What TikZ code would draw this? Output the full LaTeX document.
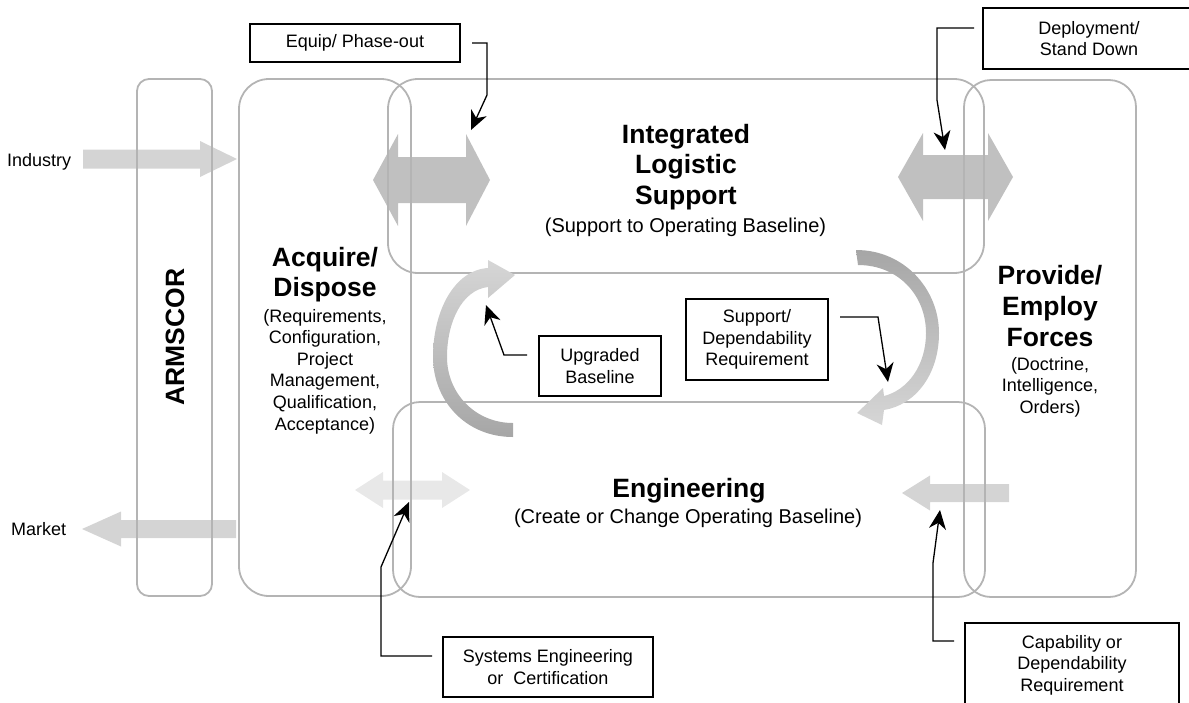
\documentclass[tikz,border=0pt]{standalone}
\usepackage{fontspec}
\setmainfont{Liberation Sans}
\usetikzlibrary{arrows.meta}
\definecolor{boxgray}{HTML}{B4B4B4}
\definecolor{arrmid}{HTML}{C0C0C0}
\definecolor{arrlight}{HTML}{D4D4D4}
\definecolor{arrpale}{HTML}{E8E8E8}
\definecolor{curvedark}{HTML}{A6A6A6}
\definecolor{curvelight}{HTML}{D6D6D6}
\tikzset{
  graybox/.style={draw=boxgray, line width=1.8pt, inner sep=0pt, outer sep=0pt},
  callout/.style={draw=black, line width=1.3pt, align=center, inner sep=0pt, outer sep=0pt,
    font=\fontsize{18}{21.6}\selectfont},
  conn/.style={line width=1.3pt, -{Stealth[length=19pt,width=17pt,inset=6pt]}},
  hd/.style={align=center, inner sep=0pt, font=\fontsize{26.5}{30.5}\selectfont\bfseries},
  subA/.style={align=center, inner sep=0pt, font=\fontsize{20}{24}\selectfont},
  subB/.style={align=center, inner sep=0pt, font=\fontsize{18}{21.6}\selectfont},
}
\begin{document}
\begin{tikzpicture}[x=1pt, y=-1pt]
\useasboundingbox (0,0) rectangle (1189,702);
% straight block arrows (under the boxes)
\fill[arrlight] (83,149.5) -- (200,149.5) -- (200,141) -- (237,159) -- (200,177) -- (200,168.5) -- (83,168.5) -- cycle;
\fill[arrlight] (236,520) -- (121,520) -- (121,511.5) -- (82,529) -- (121,546.5) -- (121,538) -- (236,538) -- cycle;
\fill[arrlight] (1009,484) -- (930,484) -- (930,475.5) -- (902,493) -- (930,510.5) -- (930,502) -- (1009,502) -- cycle;
\fill[arrpale] (383,480.5) -- (442,480.5) -- (442,472) -- (470,490) -- (442,508) -- (442,499.5) -- (383,499.5) -- (383,508) -- (355,490) -- (383,472) -- cycle;
\fill[arrmid] (398,157) -- (466,157) -- (466,134) -- (490,180) -- (466,226) -- (466,203) -- (398,203) -- (398,226) -- (373,180) -- (398,134) -- cycle;
\fill[arrmid] (923,155) -- (988,155) -- (988,133) -- (1013,177) -- (988,221) -- (988,199) -- (923,199) -- (923,221) -- (898,177) -- (923,133) -- cycle;
% gray rounded boxes
\node[graybox, rounded corners=12pt, minimum width=75pt, minimum height=517pt] (armscor) at (174.5,337.5) {};
\node[graybox, rounded corners=30pt, minimum width=172pt, minimum height=517pt] (acq) at (325,337.5) {};
\node[graybox, rounded corners=30pt, minimum width=596pt, minimum height=194pt] (ils) at (686,176) {};
\node[graybox, rounded corners=27pt, minimum width=592pt, minimum height=195pt] (eng) at (689,499.5) {};
\node[graybox, rounded corners=27pt, minimum width=172pt, minimum height=517pt] (prov) at (1050,338.5) {};
% curved arrows
\shade[top color=curvelight, bottom color=curvedark] (513,437) .. controls (465,437) and (433,400) .. (433,357) .. controls (433,310) and (455,270) .. (488,268) -- (488,260) -- (515,275) -- (488,298) -- (488,287) .. controls (462,290) and (447,322) .. (447,357) .. controls (447,393) and (475,423) .. (513,423) -- cycle;
\shade[top color=curvedark, bottom color=curvelight] (856,250) .. controls (905,250) and (939,290) .. (939,333) .. controls (939,375) and (915,405) .. (884,410) -- (882,425) -- (857,413) -- (883,388) -- (884,396) .. controls (908,390) and (926,365) .. (926,333) .. controls (926,295) and (898,265) .. (858,265) -- cycle;
% texts
\node[hd, anchor=north] (ilsT) at (686,124) {Integrated\\Logistic\\Support};
\node[subA, anchor=base] (ilsS) at (685.5,232) {(Support to Operating Baseline)};
\node[hd, anchor=base] (engT) at (689,497) {Engineering};
\node[subA, anchor=base] (engS) at (688,523) {(Create or Change Operating Baseline)};
\node[hd, anchor=north, font=\fontsize{26.5}{30}\selectfont\bfseries] (acqT) at (325,246.7) {Acquire/\\Dispose};
\node[subB, anchor=north] (acqS) at (325,308.9) {(Requirements,\\Configuration,\\Project\\Management,\\Qualification,\\Acceptance)};
\node[hd, anchor=north, font=\fontsize{26.5}{31}\selectfont\bfseries] (provT) at (1050,264.7) {Provide/\\Employ\\Forces};
\node[subB, anchor=north] (provS) at (1050,356.9) {(Doctrine,\\Intelligence,\\Orders)};
\node[hd, rotate=90] (armT) at (175,337) {ARMSCOR};
\node[subB, anchor=base west] (ind) at (7,166) {Industry};
\node[subB, anchor=base west] (mkt) at (11,535) {Market};
% callouts
\node[callout, minimum width=210pt, minimum height=38pt] (equip) at (355,43) {Equip/ Phase-out};
\node[callout, minimum width=212pt, minimum height=61pt] (dep) at (1089,38.5) {Deployment/\\Stand Down};
\node[callout, minimum width=122pt, minimum height=60pt] (upg) at (600,366) {Upgraded\\Baseline};
\node[callout, minimum width=142pt, minimum height=81pt] (sup) at (757,339.5) {Support/\\Dependability\\Requirement};
\node[callout, minimum width=210pt, minimum height=60pt] (sys) at (548,667) {Systems Engineering\\or\ \ Certification};
\node[callout, minimum width=214pt, minimum height=84pt] (cap) at (1072,665) {Capability or\\Dependability\\Requirement};
% connector tips
\coordinate (eqtip) at (471,130);
\coordinate (deptip) at (945,150);
\coordinate (upgtip) at (486,305);
\coordinate (suptip) at (888,382);
\coordinate (systip) at (409,502);
\coordinate (captip) at (940,510);
\draw[conn] ([xshift=12pt]equip.east) -- ++(15,0) -- ++(0,52) -- (eqtip);
\draw[conn] ([xshift=-9pt,yshift=10.5pt]dep.west) -- ++(-37,0) -- ++(0,72) -- (deptip);
\draw[conn] ([xshift=-12pt,yshift=11pt]upg.west) -- ++(-23,0) -- (upgtip);
\draw[conn] ([xshift=12pt,yshift=22.5pt]sup.east) -- ++(38,0) -- (suptip);
\draw[conn] ([xshift=-11pt,yshift=11pt]sys.west) -- ++(-51,0) -- ++(0,-89) -- (systip);
\draw[conn] ([xshift=-11pt,yshift=24pt]cap.west) -- ++(-21,0) -- ++(0,-78) -- (captip);
\end{tikzpicture}
\end{document}
